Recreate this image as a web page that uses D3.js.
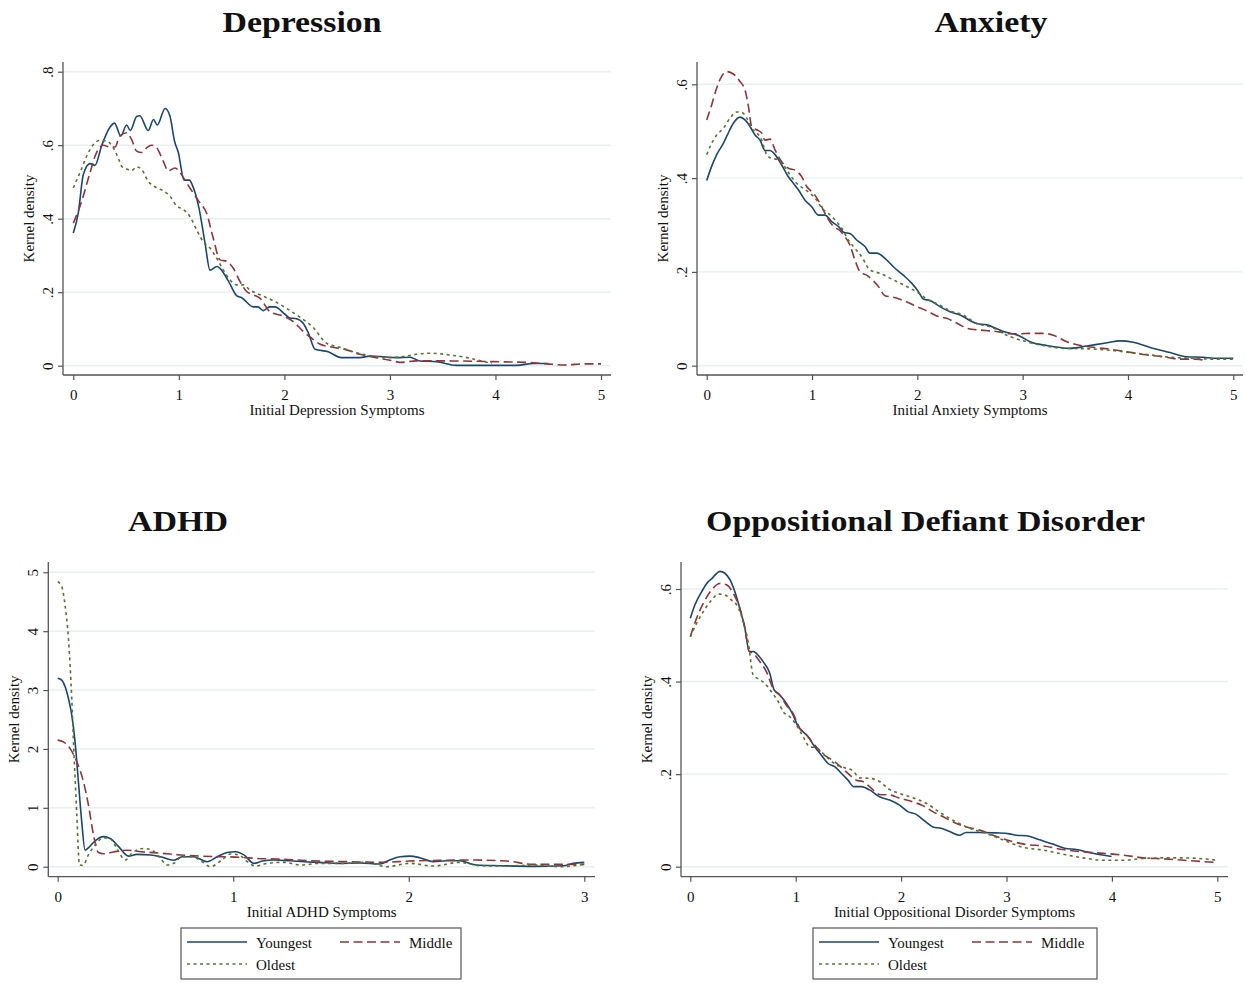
<!DOCTYPE html>
<html lang="en">
<head>
<meta charset="UTF-8">
<title>Kernel density of initial symptoms by age group</title>
<script src="https://d3js.org/d3.v7.min.js"></script>
<style>
    body { margin: 0; background: #fff; }
    svg { display: block; font-family: "Liberation Serif", "Times New Roman", serif; }
    .grid { stroke: #e8eff1; stroke-width: 1.4; }
    .axis-line { stroke: #555; stroke-width: 1.3; }
    .tick line { stroke: #555; stroke-width: 1.2; }
    .tick text { font-size: 15px; fill: #111; font-family: "Liberation Serif", serif; }
    .panel-title { font-size: 30px; font-weight: bold; fill: #111; text-anchor: middle; }
    .axis-title { font-size: 15px; fill: #111; text-anchor: middle; }
    .legend-text { font-size: 15px; fill: #111; }
</style>
</head>
<body>
<svg width="1247" height="983"></svg>
<script>
// ---- data ----
const groups = ["Youngest", "Middle", "Oldest"];
const panelTitles = ["Depression", "Anxiety", "ADHD", "Oppositional Defiant Disorder"];
const xTitles = ["Initial Depression Symptoms", "Initial Anxiety Symptoms",
                 "Initial ADHD Symptoms", "Initial Oppositional Disorder Symptoms"];
const xTicks5 = [0, 1, 2, 3, 4, 5];
const xTicks3 = [0, 1, 2, 3];
const yTicksDep = [0, .2, .4, .6, .8];
const yTicksAnx = [0, .2, .4, .6];
const yTicksAdhd = [0, 1, 2, 3, 4, 5];
const yTicksOdd = [0, .2, .4, .6];

const depYoungest = [[0,.361],[.047,.415],[.095,.52],[.158,.55],[.205,.545],[.27,.60],[.35,.65],[.39,.66],[.45,.625],[.505,.655],[.54,.64],[.6,.678],[.63,.68],[.71,.64],[.76,.67],[.795,.655],[.87,.70],[.915,.68],[.96,.61],[.995,.58],[1.05,.505],[1.10,.505],[1.13,.49],[1.19,.43],[1.25,.33],[1.295,.26],[1.36,.27],[1.39,.265],[1.47,.23],[1.55,.19],[1.595,.185],[1.705,.16],[1.75,.16],[1.80,.15],[1.86,.16],[1.91,.16],[2.005,.14],[2.05,.13],[2.115,.128],[2.18,.115],[2.226,.09],[2.29,.045],[2.415,.038],[2.54,.022],[2.715,.022],[2.81,.026],[2.905,.025],[3.06,.022],[3.19,.023],[3.285,.013],[3.44,.011],[3.63,.001],[4.2,.001],[4.36,.006],[4.5,.006]];
const depMiddle = [[0,.388],[.079,.447],[.158,.525],[.22,.58],[.284,.60],[.347,.595],[.395,.595],[.44,.625],[.505,.634],[.553,.615],[.60,.584],[.647,.58],[.695,.593],[.742,.60],[.79,.593],[.853,.556],[.90,.53],[.963,.538],[1.026,.52],[1.074,.497],[1.137,.47],[1.20,.443],[1.263,.415],[1.326,.347],[1.39,.288],[1.453,.284],[1.516,.265],[1.58,.229],[1.642,.202],[1.705,.193],[1.768,.184],[1.863,.147],[1.99,.135],[2.084,.12],[2.18,.093],[2.24,.079],[2.335,.059],[2.46,.05],[2.59,.043],[2.715,.031],[2.87,.022],[3.03,.013],[3.095,.009],[3.25,.013],[3.57,.013],[3.98,.011],[4.36,.008],[4.49,.005],[4.65,.002],[4.84,.005],[5,.005]];
const depOldest = [[0,.484],[.063,.525],[.126,.57],[.19,.602],[.253,.613],[.316,.611],[.379,.593],[.426,.565],[.458,.543],[.505,.535],[.553,.531],[.60,.541],[.647,.534],[.71,.502],[.79,.484],[.853,.476],[.916,.461],[.979,.435],[1.042,.425],[1.105,.406],[1.168,.37],[1.23,.338],[1.295,.32],[1.358,.293],[1.42,.261],[1.484,.234],[1.547,.22],[1.61,.22],[1.674,.206],[1.768,.193],[1.895,.177],[2.02,.156],[2.147,.132],[2.27,.105],[2.40,.061],[2.525,.05],[2.683,.035],[2.84,.026],[3.0,.022],[3.127,.025],[3.25,.031],[3.38,.034],[3.57,.029],[3.73,.022],[3.85,.014],[3.965,.006]];

const anxYoungest = [[0,.395],[.047,.425],[.095,.45],[.158,.474],[.196,.492],[.253,.517],[.316,.53],[.364,.524],[.411,.51],[.459,.492],[.506,.481],[.554,.459],[.601,.459],[.649,.45],[.712,.428],[.775,.403],[.823,.389],[.87,.375],[.934,.353],[.997,.339],[1.06,.321],[1.123,.321],[1.187,.307],[1.25,.297],[1.304,.284],[1.36,.282],[1.424,.268],[1.503,.254],[1.55,.24],[1.614,.24],[1.693,.229],[1.772,.211],[1.867,.193],[1.946,.176],[2.01,.158],[2.057,.142],[2.12,.139],[2.215,.126],[2.31,.115],[2.405,.108],[2.563,.09],[2.658,.087],[2.816,.073],[2.975,.063],[3.07,.051],[3.228,.043],[3.45,.037],[3.61,.042],[3.80,.049],[3.924,.053],[4.05,.05],[4.21,.039],[4.40,.028],[4.557,.019],[4.715,.018],[4.81,.016],[5,.016]];
const anxMiddle = [[0,.524],[.047,.556],[.095,.592],[.142,.617],[.19,.627],[.253,.622],[.316,.606],[.364,.588],[.396,.553],[.427,.51],[.475,.503],[.522,.496],[.554,.481],[.601,.483],[.649,.46],[.712,.435],[.775,.421],[.839,.417],[.902,.403],[.949,.382],[1.013,.368],[1.076,.346],[1.139,.318],[1.203,.297],[1.266,.288],[1.313,.275],[1.36,.257],[1.408,.225],[1.456,.2],[1.519,.193],[1.582,.181],[1.63,.169],[1.693,.149],[1.772,.146],[1.867,.139],[1.994,.126],[2.089,.117],[2.184,.106],[2.278,.101],[2.39,.089],[2.468,.08],[2.595,.076],[2.753,.073],[2.88,.068],[2.975,.068],[3.07,.069],[3.196,.069],[3.29,.065],[3.42,.051],[3.576,.042],[3.766,.037],[3.956,.031],[4.146,.024],[4.335,.019],[4.494,.014],[4.652,.014],[4.747,.01]];
const anxOldest = [[0,.45],[.047,.474],[.095,.492],[.158,.506],[.222,.528],[.285,.541],[.332,.54],[.38,.528],[.427,.506],[.475,.497],[.522,.481],[.57,.45],[.617,.442],[.665,.44],[.728,.428],[.791,.407],[.854,.389],[.918,.378],[.981,.368],[1.044,.353],[1.092,.336],[1.155,.325],[1.218,.311],[1.282,.293],[1.345,.268],[1.408,.25],[1.47,.233],[1.55,.204],[1.645,.197],[1.772,.183],[1.899,.169],[2.025,.153],[2.09,.142],[2.215,.129],[2.31,.117],[2.437,.108],[2.563,.09],[2.69,.083],[2.88,.062],[3.038,.051],[3.196,.043],[3.386,.037],[3.608,.036],[3.83,.033],[4.02,.028],[4.21,.023],[4.4,.018],[4.59,.016],[4.81,.014],[5,.014]];

const adhdYoungest = [[0,3.2],[.023,3.17],[.042,3.06],[.061,2.86],[.08,2.58],[.099,2.12],[.118,1.44],[.137,.76],[.156,.28],[.175,.32],[.213,.44],[.261,.51],[.299,.48],[.347,.34],[.404,.18],[.451,.21],[.528,.2],[.585,.17],[.661,.11],[.709,.17],[.775,.17],[.851,.085],[.909,.17],[.966,.24],[1.013,.255],[1.061,.2],[1.118,.057],[1.166,.096],[1.232,.113],[1.328,.1],[1.404,.085],[1.49,.074],[1.606,.057],[1.72,.062],[1.835,.045],[1.89,.113],[1.95,.17],[2.006,.18],[2.063,.153],[2.14,.085],[2.215,.1],[2.29,.1],[2.386,.028],[2.52,.017],[2.71,.006],[2.88,.017],[2.937,.057],[3,.074]];
const adhdMiddle = [[0,2.15],[.032,2.12],[.07,2.01],[.109,1.78],[.147,1.44],[.175,1.05],[.204,.54],[.232,.24],[.261,.22],[.318,.25],[.394,.28],[.49,.25],[.585,.23],[.699,.2],[.813,.18],[.928,.17],[1.042,.16],[1.137,.14],[1.251,.13],[1.385,.11],[1.49,.096],[1.663,.085],[1.835,.074],[2.006,.096],[2.177,.108],[2.367,.113],[2.557,.096],[2.71,.04],[2.88,.04],[3,.04]];
const adhdOldest = [[0,4.84],[.023,4.76],[.042,4.44],[.061,3.88],[.08,2.86],[.093,1.9],[.109,.88],[.124,.03],[.143,.02],[.175,.2],[.213,.37],[.261,.49],[.299,.48],[.337,.31],[.385,.113],[.423,.23],[.49,.31],[.537,.28],[.585,.14],[.623,.03],[.661,.057],[.709,.17],[.766,.17],[.823,.085],[.87,0],[.928,.096],[.985,.215],[1.032,.2],[1.08,.085],[1.128,.011],[1.194,.057],[1.29,.074],[1.385,.028],[1.49,.057],[1.625,.057],[1.758,.074],[1.873,0],[2.006,.057],[2.14,.011],[2.29,.074],[2.405,.017],[2.557,.011],[2.71,.028],[2.86,0],[3,.04]];

const oddYoungest = [[0,.537],[.044,.566],[.107,.594],[.17,.616],[.202,.622],[.234,.63],[.281,.638],[.328,.634],[.376,.62],[.423,.594],[.47,.558],[.518,.515],[.559,.465],[.597,.465],[.644,.457],[.691,.443],[.754,.418],[.795,.382],[.849,.371],[.912,.353],[.975,.328],[1.023,.303],[1.054,.295],[1.117,.281],[1.18,.259],[1.244,.241],[1.307,.223],[1.37,.216],[1.433,.202],[1.496,.187],[1.55,.173],[1.622,.173],[1.701,.166],[1.796,.151],[1.891,.144],[1.986,.133],[2.064,.119],[2.143,.113],[2.222,.099],[2.301,.086],[2.38,.083],[2.459,.076],[2.553,.068],[2.616,.074],[2.743,.074],[2.902,.073],[3.029,.071],[3.092,.068],[3.187,.067],[3.314,.058],[3.44,.049],[3.551,.04],[3.662,.037],[3.82,.029],[3.997,.022]];
const oddMiddle = [[0,.497],[.06,.537],[.123,.569],[.202,.598],[.281,.612],[.344,.609],[.407,.591],[.47,.558],[.518,.515],[.559,.465],[.597,.461],[.66,.443],[.723,.421],[.786,.385],[.849,.371],[.912,.349],[.975,.331],[1.039,.299],[1.102,.285],[1.18,.263],[1.259,.243],[1.323,.234],[1.401,.221],[1.48,.205],[1.575,.187],[1.638,.184],[1.701,.173],[1.796,.156],[1.891,.155],[1.986,.148],[2.112,.14],[2.206,.132],[2.301,.119],[2.38,.11],[2.52,.094],[2.62,.086],[2.746,.079],[2.873,.068],[3.03,.056],[3.187,.048],[3.346,.045],[3.536,.037],[3.727,.032],[3.917,.029],[4.11,.025],[4.3,.019],[4.49,.017],[4.68,.014],[4.87,.011],[5,.009]];
const oddOldest = [[0,.497],[.06,.526],[.123,.551],[.202,.576],[.265,.589],[.328,.587],[.391,.576],[.439,.566],[.502,.53],[.549,.486],[.597,.414],[.644,.406],[.707,.396],[.77,.378],[.833,.357],[.881,.335],[.944,.324],[1.007,.306],[1.07,.281],[1.133,.259],[1.196,.257],[1.259,.245],[1.323,.231],[1.386,.22],[1.464,.214],[1.543,.207],[1.607,.192],[1.701,.191],[1.796,.184],[1.875,.169],[1.986,.158],[2.112,.149],[2.238,.137],[2.37,.117],[2.52,.097],[2.65,.083],[2.807,.072],[2.965,.058],[3.155,.042],[3.346,.036],[3.536,.027],[3.727,.019],[3.917,.014],[4.11,.014],[4.3,.018],[4.49,.019],[4.68,.019],[4.87,.017],[5,.014]];

// ---- styles per age group ----
const colors = { Youngest: "#1a476f", Middle: "#90353b", Oldest: "#55752f" };
const dashes = { Youngest: null, Middle: "9,4.5", Oldest: "3,3.5" };

// ---- panel layout ----
const panels = [
    { title: panelTitles[0], xTitle: xTitles[0], lines: [depYoungest, depMiddle, depOldest],
      xTicks: xTicks5, yTicks: yTicksDep, axisX: 63, right: 611, top: 62, axisY: 375,
      xr: [73.3, 601], yr: [365.7, 71.7], titleX: 302, titleY: 32, titleW: 159 },
    { title: panelTitles[1], xTitle: xTitles[1], lines: [anxYoungest, anxMiddle, anxOldest],
      xTicks: xTicks5, yTicks: yTicksAnx, axisX: 697, right: 1243, top: 62, axisY: 375,
      xr: [706.7, 1233.3], yr: [365.7, 84.3], titleX: 991, titleY: 32, titleW: 113 },
    { title: panelTitles[2], xTitle: xTitles[2], lines: [adhdYoungest, adhdMiddle, adhdOldest],
      xTicks: xTicks3, yTicks: yTicksAdhd, axisX: 48.3, right: 595, top: 562, axisY: 876.7,
      xr: [57.7, 584.3], yr: [866.7, 572.3], titleX: 178, titleY: 531, titleW: 100,
      legend: { x: 181, y: 928, w: 280 } },
    { title: panelTitles[3], xTitle: xTitles[3], lines: [oddYoungest, oddMiddle, oddOldest],
      xTicks: xTicks5, yTicks: yTicksOdd, axisX: 681, right: 1228, top: 562, axisY: 876.7,
      xr: [690.3, 1217.3], yr: [866.7, 589], titleX: 925.5, titleY: 531, titleW: 439,
      legend: { x: 813, y: 928, w: 284 } }
];

const svg = d3.select("svg");
const fmt = d => d === 0 ? "0" : (d < 1 ? String(d).replace(/^0/, "") : String(d));

panels.forEach(p => {
    const g = svg.append("g");
    const x = d3.scaleLinear().domain([0, d3.max(p.xTicks)]).range(p.xr);
    const y = d3.scaleLinear().domain([0, d3.max(p.yTicks)]).range(p.yr);

    // gridlines
    g.selectAll(".grid").data(p.yTicks).enter().append("line")
        .attr("class", "grid")
        .attr("x1", p.axisX).attr("x2", p.right)
        .attr("y1", d => y(d)).attr("y2", d => y(d));

    // axes
    const xa = g.append("g").attr("transform", `translate(0,${p.axisY})`)
        .call(d3.axisBottom(x).tickValues(p.xTicks).tickSize(5).tickFormat(fmt));
    xa.select(".domain").remove();
    xa.selectAll("text").attr("y", 0).attr("dy", 0).attr("transform", "translate(0,25)");

    const ya = g.append("g").attr("transform", `translate(${p.axisX},0)`)
        .call(d3.axisLeft(y).tickValues(p.yTicks).tickSize(5).tickFormat(fmt));
    ya.select(".domain").remove();
    ya.selectAll("text").attr("x", 0).attr("dy", 0)
        .attr("text-anchor", "middle")
        .attr("transform", "translate(-10,0) rotate(-90)");

    g.append("line").attr("class", "axis-line")
        .attr("x1", p.axisX).attr("x2", p.right).attr("y1", p.axisY).attr("y2", p.axisY);
    g.append("line").attr("class", "axis-line")
        .attr("x1", p.axisX).attr("x2", p.axisX).attr("y1", p.top).attr("y2", p.axisY);

    // density lines
    const line = d3.line().x(d => x(d[0])).y(d => y(d[1])).curve(d3.curveMonotoneX);
    p.lines.forEach((pts, i) => {
        const grp = groups[i];
        g.append("path").datum(pts)
            .attr("d", line)
            .attr("fill", "none")
            .attr("stroke", colors[grp])
            .attr("stroke-width", 1.6)
            .attr("stroke-dasharray", dashes[grp]);
    });

    // titles
    g.append("text").attr("class", "panel-title")
        .attr("x", p.titleX).attr("y", p.titleY)
        .attr("textLength", p.titleW).attr("lengthAdjust", "spacingAndGlyphs")
        .text(p.title);
    g.append("text").attr("class", "axis-title")
        .attr("x", (p.axisX + p.right) / 2).attr("y", p.axisY + 40)
        .text(p.xTitle);
    g.append("text").attr("class", "axis-title")
        .attr("transform", `translate(${p.axisX - 29},${(p.top + p.axisY) / 2}) rotate(-90)`)
        .text("Kernel density");

    // legend
    if (p.legend) {
        const L = p.legend;
        const lg = g.append("g").attr("transform", `translate(${L.x},${L.y})`);
        lg.append("rect").attr("width", L.w).attr("height", 51)
            .attr("fill", "#fff").attr("stroke", "#555").attr("stroke-width", 1.2);
        const items = [
            { grp: groups[0], lx: 6, ty: 0 },
            { grp: groups[1], lx: 159, ty: 0 },
            { grp: groups[2], lx: 6, ty: 22 }
        ];
        items.forEach(it => {
            lg.append("line")
                .attr("x1", it.lx).attr("x2", it.lx + 60)
                .attr("y1", 14 + it.ty).attr("y2", 14 + it.ty)
                .attr("stroke", colors[it.grp]).attr("stroke-width", 1.6)
                .attr("stroke-dasharray", dashes[it.grp]);
            lg.append("text").attr("class", "legend-text")
                .attr("x", it.lx + 69).attr("y", 20 + it.ty)
                .text(it.grp);
        });
    }
});
</script>
</body>
</html>
